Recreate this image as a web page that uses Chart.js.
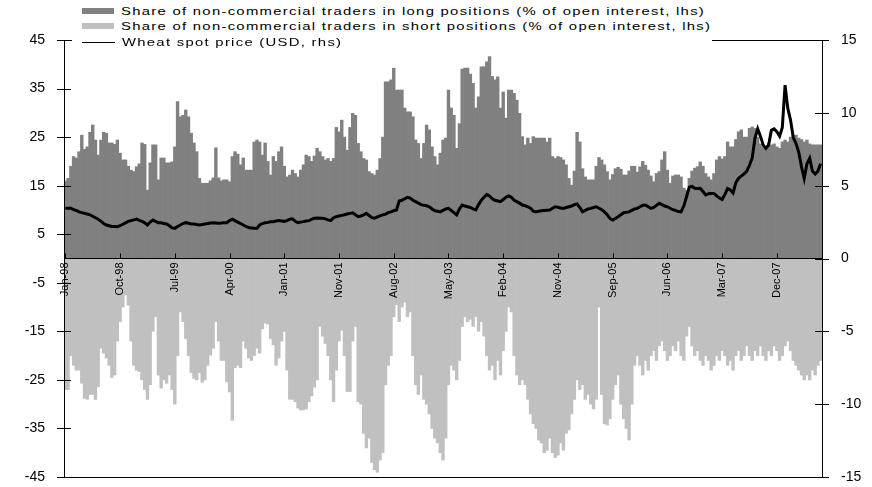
<!DOCTYPE html>
<html>
<head>
<meta charset="utf-8">
<script src="https://cdn.jsdelivr.net/npm/chart.js@4.4.1/dist/chart.umd.min.js"></script>
<style>
  html, body { margin: 0; padding: 0; background: #fff; }
  #wrap { position: relative; width: 872px; height: 487px; }
  #legend {
    position: absolute; left: 72px; top: 0; width: 640px; height: 47px;
    background: #fff; font-family: "Liberation Sans", Arial, sans-serif;
    font-size: 11.5px; color: #000;
  }
  .item { position: absolute; left: 10px; height: 14px; display: flex; align-items: center; white-space: nowrap; }
  .box { display: inline-block; width: 32px; height: 6px; }
  .ln { display: inline-block; width: 33px; height: 0; border-top: 1.5px solid #000; }
  .txt { display: inline-block; margin-left: 7px; letter-spacing: 1px; transform: scaleX(1.29); transform-origin: left center; }
</style>
</head>
<body>
<div id="wrap">
  <canvas id="chart" width="872" height="487"></canvas>
  <div id="legend">
    <div class="item" style="top:4px"><span class="box" style="background:#808080"></span><span class="txt">Share of non-commercial traders in long positions (% of open interest, lhs)</span></div>
    <div class="item" style="top:19px"><span class="box" style="background:#c0c0c0"></span><span class="txt">Share of non-commercial traders in short positions (% of open interest, lhs)</span></div>
    <div class="item" style="top:35px"><span class="ln"></span><span class="txt">Wheat spot price (USD, rhs)</span></div>
  </div>
</div>
<script>
// ---------- data (two-week steps, Jan 1998 - mid 2008) ----------
const TICK_LABELS = ['Jan-98', 'Oct-98', 'Jul-99', 'Apr-00', 'Jan-01', 'Nov-01', 'Aug-02',
                     'May-03', 'Feb-04', 'Nov-04', 'Sep-05', 'Jun-06', 'Mar-07', 'Dec-07'];
const TICK_EVERY = 20;   // one label every 20 bars

// long positions, % of open interest (lhs)
const LONG = [
  16, 16.5, 19, 21, 20.7, 22, 25.4, 22.5, 23, 26,
  27.5, 24.4, 21.3, 24.4, 26, 25.8, 23.8, 23.8, 23.5, 24.4,
  21.7, 20.3, 20.3, 19, 18.2, 17.9, 18.9, 19.5, 23.8, 23.5,
  14.1, 19.7, 23.4, 23.4, 16.2, 20.7, 20.7, 19.7, 19.7, 19.9,
  23, 32.3, 29.2, 29.5, 30.6, 29.2, 25.8, 23.8, 22, 16.5,
  15.5, 15.5, 15.5, 16, 16.6, 22.8, 16.6, 16, 16.2, 16.2,
  15.8, 21, 22, 21.5, 19.3, 20.7, 18.2, 18.2, 18.2, 24,
  24.4, 24, 21.3, 23.8, 20, 17.2, 21, 20, 22, 23,
  19, 16.8, 17.2, 18.2, 17.5, 16.8, 18.2, 19.3, 21.3, 21,
  20, 21.1, 22.7, 22, 21, 20.3, 20.6, 20, 20.6, 27,
  26.1, 28.5, 25, 22.3, 27, 29.9, 29.5, 23.7, 22, 20.6,
  20.3, 17.9, 17.5, 17.2, 18.2, 20.6, 25, 36.4, 36.4, 36.8,
  39.2, 34.7, 34.7, 34.7, 31, 30.2, 30.2, 29.2, 24.4, 23.7,
  20.6, 23.7, 27.5, 26.5, 23, 21, 19.3, 21.7, 24.4, 24.8,
  34.7, 31, 29.5, 22.7, 27.8, 39, 39.2, 39.2, 38, 36.1,
  31, 33.3, 39.5, 39.5, 40.5, 41.6, 37.5, 36.8, 37.4, 31,
  34.3, 28.9, 34.7, 34.7, 34, 32.6, 29.9, 25.1, 23.4, 24.8,
  23.7, 25.1, 24.8, 24.8, 24.8, 24.8, 24, 24.8, 21, 20.6,
  21, 20.8, 20.3, 19.3, 16.5, 15.1, 18, 26, 24, 18.5,
  16.8, 16.2, 16.2, 16.2, 19, 20.8, 20.3, 19.3, 17.9, 16.2,
  17.3, 18.5, 18.8, 18.4, 17.2, 17.2, 18, 19, 19, 17.8,
  18.9, 20, 19.2, 18.2, 17, 15.8, 17.5, 17.9, 20.3, 22,
  18.2, 15.5, 17, 17.2, 17.2, 16.8, 14.5, 14.1, 16.5, 18,
  18.6, 18.9, 19.9, 19, 17.5, 16.8, 16.2, 17.5, 20.3, 21,
  20.5, 21, 24, 23, 23, 24.5, 26.1, 26.5, 25, 25,
  26.8, 27.1, 26.8, 25, 23.6, 23.2, 23, 23.7, 23.4, 23.6,
  23, 22.7, 24, 24.4, 24, 25, 25.4, 25.4, 24.8, 24.5,
  24, 24.4, 23.6, 23.4, 23.4, 23.4, 23.4
];

// short positions, % of open interest (lhs, shown negative)
const SHORT = [
  -27, -27, -20, -22, -23, -23, -25.7, -28.8, -29, -28,
  -28, -29, -26.4, -18.5, -19.5, -20.5, -22, -24.5, -24, -17,
  -13, -10, -7.5, -9.6, -17, -22, -23, -23.3, -25, -27,
  -29, -26, -15, -12, -24, -26.7, -25, -25.7, -24, -27,
  -30, -20, -11, -13, -16.5, -20, -23.5, -24.7, -25, -23.5,
  -25.5, -25, -22, -19.9, -18.5, -13, -17, -21, -21, -25.4,
  -27.5, -33.3, -22.5, -22, -22.5, -17, -18.5, -20.5, -21, -20,
  -18.5, -19.5, -14.5, -13.3, -13.5, -16.5, -17.8, -22, -20.5, -17,
  -15, -23, -29, -29, -29.5, -30.8, -31.2, -31.2, -31, -29.5,
  -28.3, -26.5, -25, -14, -16, -17.5, -20, -25, -29.5, -23,
  -17, -14.8, -20, -27.4, -27.4, -17, -14, -29.5, -30, -36,
  -39, -37, -42, -43.5, -44, -41.5, -40, -26, -22, -20,
  -12, -9.5, -13, -10, -9, -12, -11, -20, -26, -28,
  -24, -29, -30, -32, -35, -37, -38, -40, -41.5, -37,
  -26, -22, -23, -25, -21, -14, -12, -13, -12.5, -14,
  -12, -15, -13, -16, -20, -23, -22, -25, -21, -24,
  -19, -15, -10, -11, -20, -24, -26, -25, -26, -29,
  -32, -34, -35, -37.4, -38, -40, -39.5, -37, -40, -41,
  -40.5, -38, -39.5, -36, -35.3, -32, -29, -25, -27, -26,
  -29, -28, -30, -31, -29, -10, -28, -34, -34.3, -33,
  -29, -26, -24, -30, -33, -35, -37.4, -30, -22, -20,
  -22, -24, -21, -23, -20, -19, -21, -18, -17, -19,
  -21, -20, -18, -19, -17, -20, -21, -16, -14, -18,
  -20, -19, -21, -22, -20, -21, -23, -22, -20, -21,
  -19, -20, -22, -21, -23, -20, -19, -21, -20, -18,
  -20, -21, -19, -20, -18, -20, -21, -19, -20, -18,
  -19, -21, -20, -18, -17, -19, -21, -22, -23, -24,
  -25, -24, -25, -23, -24, -22, -21
];

// wheat spot price, USD (rhs)
const PRICE = [
  3.45, 3.45, 3.45, 3.35, 3.3, 3.2, 3.15, 3.1, 3.05, 3.0,
  2.9, 2.8, 2.7, 2.55, 2.4, 2.3, 2.25, 2.2, 2.2, 2.18,
  2.25, 2.35, 2.45, 2.55, 2.6, 2.65, 2.7, 2.62, 2.55, 2.45,
  2.3, 2.5, 2.64, 2.55, 2.46, 2.45, 2.4, 2.37, 2.25, 2.1,
  2.07, 2.2, 2.3, 2.4, 2.46, 2.42, 2.37, 2.37, 2.33, 2.3,
  2.33, 2.37, 2.4, 2.44, 2.46, 2.44, 2.42, 2.43, 2.45, 2.46,
  2.6, 2.7, 2.6, 2.5, 2.4, 2.3, 2.2, 2.13, 2.1, 2.07,
  2.07, 2.3, 2.4, 2.46, 2.48, 2.52, 2.53, 2.57, 2.6, 2.58,
  2.55, 2.6, 2.7, 2.72, 2.55, 2.46, 2.5, 2.53, 2.57, 2.6,
  2.68, 2.76, 2.78, 2.76, 2.76, 2.72, 2.65, 2.6, 2.8, 2.87,
  2.92, 2.96, 3.0, 3.05, 3.1, 3.14, 3.0, 2.87, 2.92, 3.0,
  3.1, 2.95, 2.8, 2.76, 2.85, 2.92, 2.99, 3.05, 3.15, 3.2,
  3.28, 3.33, 3.95, 4.0, 4.1, 4.2, 4.15, 4.0, 3.9, 3.8,
  3.7, 3.65, 3.62, 3.55, 3.4, 3.28, 3.25, 3.2, 3.3, 3.4,
  3.44, 3.3, 3.15, 2.99, 3.4, 3.67, 3.6, 3.55, 3.5, 3.4,
  3.33, 3.7, 4.0, 4.2, 4.4, 4.3, 4.1, 4.0, 3.95, 3.9,
  4.05, 4.2, 4.29, 4.2, 4.0, 3.9, 3.8, 3.67, 3.62, 3.55,
  3.45, 3.25, 3.2, 3.25, 3.28, 3.3, 3.32, 3.33, 3.45, 3.55,
  3.52, 3.46, 3.44, 3.5, 3.55, 3.6, 3.7, 3.75, 3.5, 3.2,
  3.3, 3.4, 3.44, 3.5, 3.55, 3.45, 3.35, 3.2, 3.0, 2.75,
  2.64, 2.75, 2.87, 3.0, 3.14, 3.18, 3.2, 3.3, 3.4, 3.44,
  3.55, 3.65, 3.67, 3.55, 3.44, 3.5, 3.65, 3.79, 3.7, 3.6,
  3.55, 3.45, 3.35, 3.3, 3.22, 3.2, 3.6, 4.24, 4.9, 4.95,
  4.82, 4.8, 4.82, 4.6, 4.36, 4.45, 4.47, 4.47, 4.3, 4.15,
  4.05, 4.4, 4.8, 4.7, 4.5, 5.2, 5.5, 5.65, 5.8, 6.0,
  6.4, 6.9, 8.25, 8.9, 8.4, 7.8, 7.56, 7.8, 8.8, 8.9,
  8.7, 8.4, 9.0, 11.9, 10.3, 9.5, 8.3, 7.9, 7.3, 6.3,
  5.5, 6.5, 6.88, 6.0, 5.8, 6.0, 6.5
];

// category labels: only every 20th bar carries a date
const labels = LONG.map((_, i) => (i % TICK_EVERY === 0 ? (TICK_LABELS[i / TICK_EVERY] || '') : ''));

const FONT = '"Liberation Sans", Arial, sans-serif';

// small tick marks crossing the axes + top/bottom frame
const axisMarks = {
  id: 'axisMarks',
  afterDraw(chart) {
    const { ctx, chartArea: { left, right, top, bottom }, scales: { x, y, y1 } } = chart;
    const px = (v) => Math.round(v) + 0.5;
    ctx.save();
    ctx.strokeStyle = '#000';
    ctx.lineWidth = 1;
    ctx.beginPath();
    ctx.moveTo(left, px(top));    ctx.lineTo(right + 7, px(top));
    ctx.moveTo(left, px(bottom)); ctx.lineTo(right, px(bottom));
    y.ticks.forEach(t => {
      const yy = px(y.getPixelForValue(t.value));
      ctx.moveTo(left - 7, yy); ctx.lineTo(left + 7, yy);
    });
    y1.ticks.forEach(t => {
      const yy = px(y1.getPixelForValue(t.value));
      ctx.moveTo(right - 7, yy); ctx.lineTo(right + 7, yy);
    });
    const zero = y.getPixelForValue(0);
    labels.forEach((lab, i) => {
      if (!lab) return;
      const xx = px(x.getPixelForValue(i));
      ctx.moveTo(xx, zero); ctx.lineTo(xx, zero - 5);
    });
    ctx.stroke();
    ctx.restore();
  }
};

new Chart(document.getElementById('chart'), {
  data: {
    labels,
    datasets: [
      {
        type: 'line', label: 'Wheat spot price (USD, rhs)', data: PRICE, yAxisID: 'y1',
        borderColor: '#000', borderWidth: 3, pointRadius: 0, tension: 0, order: 0,
      },
      {
        type: 'bar', label: 'Long', data: LONG, yAxisID: 'y', backgroundColor: '#808080',
        grouped: false, barPercentage: 1, categoryPercentage: 1, borderWidth: 0, order: 1,
      },
      {
        type: 'bar', label: 'Short', data: SHORT, yAxisID: 'y', backgroundColor: '#c0c0c0',
        grouped: false, barPercentage: 1, categoryPercentage: 1, borderWidth: 0, order: 2,
      },
    ]
  },
  options: {
    responsive: false,
    animation: false,
    layout: { padding: { top: 40, bottom: 10, left: 0, right: 0 } },
    plugins: { legend: { display: false }, tooltip: { enabled: false } },
    scales: {
      x: {
        type: 'category',
        position: { y: 0 },
        offset: true,
        grid: { display: false, drawTicks: false },
        border: { display: true, color: '#000', width: 1, z: 1 },
        ticks: {
          autoSkip: false, minRotation: 90, maxRotation: 90, padding: 4, z: 1,
          color: '#000', font: { family: FONT, size: 11 },
        },
      },
      y: {
        position: 'left', min: -45, max: 45,
        // invisible tick length keeps labels away from the axis without extra layout padding
        grid: { display: false, drawTicks: true, tickLength: 18 },
        border: { display: true, color: '#000', width: 1, z: 1 },
        ticks: { stepSize: 10, padding: 1, color: '#000', font: { family: FONT, size: 14 } },
        afterFit: (s) => { s.width = 64; },
      },
      y1: {
        position: 'right', min: -15, max: 15,
        grid: { display: false, drawTicks: true, tickLength: 18 },
        border: { display: true, color: '#000', width: 1, z: 1 },
        ticks: { stepSize: 5, padding: 1, color: '#000', font: { family: FONT, size: 14 } },
        afterFit: (s) => { s.width = 50; },
      },
    }
  },
  plugins: [axisMarks]
});
</script>
</body>
</html>
